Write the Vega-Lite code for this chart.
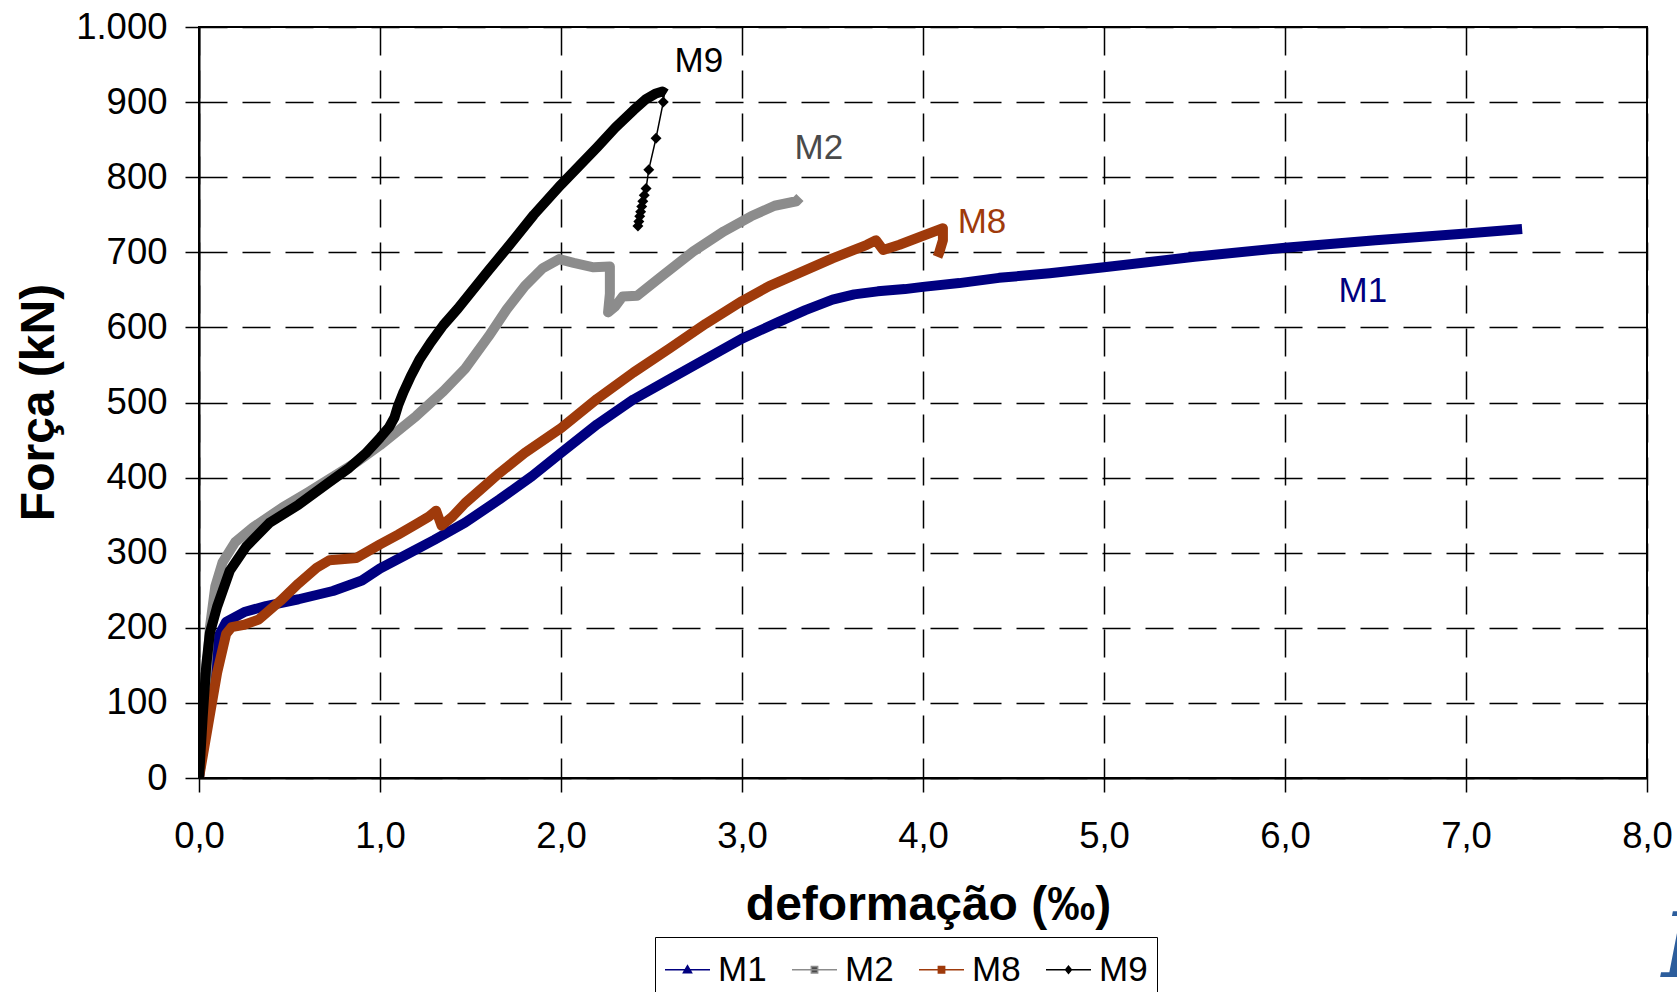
{
  "$schema": "https://vega.github.io/schema/vega-lite/v6.json",
  "autosize": {"type": "none"},
  "width": 1448,
  "height": 751,
  "padding": {"left": 199, "top": 27, "right": 30, "bottom": 214},
  "background": "white",
  "config": {
    "font": "Liberation Sans",
    "view": {"stroke": "black", "strokeWidth": 2},
    "axis": {
      "domainColor": "black", "domainWidth": 2,
      "tickColor": "black", "tickWidth": 1.5, "tickSize": 14,
      "grid": true, "gridColor": "black", "gridWidth": 1.5, "gridDash": [28, 15], "gridOpacity": 1,
      "labelFont": "Liberation Sans", "labelFontSize": 36.5, "labelColor": "black", "labelFlush": false, "labelOverlap": false,
      "titleFont": "Liberation Sans", "titleFontSize": 48, "titleFontWeight": "bold", "titleColor": "black"
    }
  },
  "datasets": {
    "curves": [
      {"s":"M1","part":"main","i":0,"x":0,"y":0},
      {"s":"M1","part":"main","i":1,"x":0.03,"y":60},
      {"s":"M1","part":"main","i":2,"x":0.06,"y":125},
      {"s":"M1","part":"main","i":3,"x":0.1,"y":185},
      {"s":"M1","part":"main","i":4,"x":0.15,"y":208},
      {"s":"M1","part":"main","i":5,"x":0.25,"y":221},
      {"s":"M1","part":"main","i":6,"x":0.37,"y":229},
      {"s":"M1","part":"main","i":7,"x":0.55,"y":238},
      {"s":"M1","part":"main","i":8,"x":0.74,"y":249},
      {"s":"M1","part":"main","i":9,"x":0.9,"y":263},
      {"s":"M1","part":"main","i":10,"x":1.0,"y":279},
      {"s":"M1","part":"main","i":11,"x":1.15,"y":298},
      {"s":"M1","part":"main","i":12,"x":1.3,"y":317},
      {"s":"M1","part":"main","i":13,"x":1.47,"y":340},
      {"s":"M1","part":"main","i":14,"x":1.66,"y":371},
      {"s":"M1","part":"main","i":15,"x":1.84,"y":402},
      {"s":"M1","part":"main","i":16,"x":2.0,"y":433},
      {"s":"M1","part":"main","i":17,"x":2.2,"y":471},
      {"s":"M1","part":"main","i":18,"x":2.4,"y":504},
      {"s":"M1","part":"main","i":19,"x":2.6,"y":531},
      {"s":"M1","part":"main","i":20,"x":2.8,"y":558},
      {"s":"M1","part":"main","i":21,"x":3.0,"y":585},
      {"s":"M1","part":"main","i":22,"x":3.2,"y":607},
      {"s":"M1","part":"main","i":23,"x":3.35,"y":623},
      {"s":"M1","part":"main","i":24,"x":3.5,"y":637},
      {"s":"M1","part":"main","i":25,"x":3.62,"y":644},
      {"s":"M1","part":"main","i":26,"x":3.75,"y":648},
      {"s":"M1","part":"main","i":27,"x":3.9,"y":651},
      {"s":"M1","part":"main","i":28,"x":4.0,"y":654},
      {"s":"M1","part":"main","i":29,"x":4.2,"y":659},
      {"s":"M1","part":"main","i":30,"x":4.42,"y":666},
      {"s":"M1","part":"main","i":31,"x":4.7,"y":672},
      {"s":"M1","part":"main","i":32,"x":5.0,"y":680},
      {"s":"M1","part":"main","i":33,"x":5.5,"y":694},
      {"s":"M1","part":"main","i":34,"x":6.0,"y":706},
      {"s":"M1","part":"main","i":35,"x":6.5,"y":716},
      {"s":"M1","part":"main","i":36,"x":7.0,"y":725},
      {"s":"M1","part":"main","i":37,"x":7.31,"y":731},

      {"s":"M2","part":"main","i":0,"x":0,"y":0},
      {"s":"M2","part":"main","i":1,"x":0.03,"y":100},
      {"s":"M2","part":"main","i":2,"x":0.06,"y":200},
      {"s":"M2","part":"main","i":3,"x":0.09,"y":255},
      {"s":"M2","part":"main","i":4,"x":0.13,"y":287},
      {"s":"M2","part":"main","i":5,"x":0.2,"y":314},
      {"s":"M2","part":"main","i":6,"x":0.3,"y":334},
      {"s":"M2","part":"main","i":7,"x":0.46,"y":360},
      {"s":"M2","part":"main","i":8,"x":0.6,"y":380},
      {"s":"M2","part":"main","i":9,"x":0.74,"y":401},
      {"s":"M2","part":"main","i":10,"x":0.88,"y":422},
      {"s":"M2","part":"main","i":11,"x":1.0,"y":443},
      {"s":"M2","part":"main","i":12,"x":1.2,"y":482},
      {"s":"M2","part":"main","i":13,"x":1.35,"y":515},
      {"s":"M2","part":"main","i":14,"x":1.47,"y":545},
      {"s":"M2","part":"main","i":15,"x":1.6,"y":588},
      {"s":"M2","part":"main","i":16,"x":1.7,"y":624},
      {"s":"M2","part":"main","i":17,"x":1.8,"y":655},
      {"s":"M2","part":"main","i":18,"x":1.9,"y":679},
      {"s":"M2","part":"main","i":19,"x":1.99,"y":691},
      {"s":"M2","part":"main","i":20,"x":2.07,"y":686},
      {"s":"M2","part":"main","i":21,"x":2.18,"y":680},
      {"s":"M2","part":"main","i":22,"x":2.27,"y":681},
      {"s":"M2","part":"main","i":23,"x":2.27,"y":645},
      {"s":"M2","part":"main","i":24,"x":2.26,"y":620},
      {"s":"M2","part":"main","i":25,"x":2.3,"y":628},
      {"s":"M2","part":"main","i":26,"x":2.34,"y":641},
      {"s":"M2","part":"main","i":27,"x":2.42,"y":642},
      {"s":"M2","part":"main","i":28,"x":2.55,"y":667},
      {"s":"M2","part":"main","i":29,"x":2.73,"y":701},
      {"s":"M2","part":"main","i":30,"x":2.9,"y":728},
      {"s":"M2","part":"main","i":31,"x":3.05,"y":748},
      {"s":"M2","part":"main","i":32,"x":3.18,"y":762},
      {"s":"M2","part":"main","i":33,"x":3.3,"y":768},
      {"s":"M2","part":"main","i":34,"x":3.32,"y":773},

      {"s":"M8","part":"main","i":0,"x":0,"y":0},
      {"s":"M8","part":"main","i":1,"x":0.05,"y":70},
      {"s":"M8","part":"main","i":2,"x":0.1,"y":140},
      {"s":"M8","part":"main","i":3,"x":0.15,"y":192},
      {"s":"M8","part":"main","i":4,"x":0.18,"y":201},
      {"s":"M8","part":"main","i":5,"x":0.25,"y":204},
      {"s":"M8","part":"main","i":6,"x":0.33,"y":211},
      {"s":"M8","part":"main","i":7,"x":0.45,"y":236},
      {"s":"M8","part":"main","i":8,"x":0.55,"y":259},
      {"s":"M8","part":"main","i":9,"x":0.65,"y":280},
      {"s":"M8","part":"main","i":10,"x":0.72,"y":290},
      {"s":"M8","part":"main","i":11,"x":0.87,"y":293},
      {"s":"M8","part":"main","i":12,"x":1.0,"y":311},
      {"s":"M8","part":"main","i":13,"x":1.1,"y":324},
      {"s":"M8","part":"main","i":14,"x":1.2,"y":338},
      {"s":"M8","part":"main","i":15,"x":1.27,"y":348},
      {"s":"M8","part":"main","i":16,"x":1.31,"y":356},
      {"s":"M8","part":"main","i":17,"x":1.34,"y":336},
      {"s":"M8","part":"main","i":18,"x":1.4,"y":348},
      {"s":"M8","part":"main","i":19,"x":1.47,"y":366},
      {"s":"M8","part":"main","i":20,"x":1.56,"y":385},
      {"s":"M8","part":"main","i":21,"x":1.66,"y":406},
      {"s":"M8","part":"main","i":22,"x":1.8,"y":433},
      {"s":"M8","part":"main","i":23,"x":2.0,"y":466},
      {"s":"M8","part":"main","i":24,"x":2.2,"y":505},
      {"s":"M8","part":"main","i":25,"x":2.4,"y":540},
      {"s":"M8","part":"main","i":26,"x":2.6,"y":572},
      {"s":"M8","part":"main","i":27,"x":2.8,"y":605},
      {"s":"M8","part":"main","i":28,"x":3.0,"y":635},
      {"s":"M8","part":"main","i":29,"x":3.15,"y":655},
      {"s":"M8","part":"main","i":30,"x":3.32,"y":673},
      {"s":"M8","part":"main","i":31,"x":3.5,"y":692},
      {"s":"M8","part":"main","i":32,"x":3.69,"y":710},
      {"s":"M8","part":"main","i":33,"x":3.74,"y":716},
      {"s":"M8","part":"main","i":34,"x":3.78,"y":703},
      {"s":"M8","part":"main","i":35,"x":3.87,"y":710},
      {"s":"M8","part":"main","i":36,"x":4.0,"y":722},
      {"s":"M8","part":"main","i":37,"x":4.11,"y":732},
      {"s":"M8","part":"main","i":38,"x":4.11,"y":716},
      {"s":"M8","part":"main","i":39,"x":4.09,"y":700},
      {"s":"M8","part":"main","i":40,"x":4.08,"y":694},

      {"s":"M9","part":"main","i":0,"x":0,"y":0},
      {"s":"M9","part":"main","i":1,"x":0.02,"y":80},
      {"s":"M9","part":"main","i":2,"x":0.04,"y":150},
      {"s":"M9","part":"main","i":3,"x":0.06,"y":193},
      {"s":"M9","part":"main","i":4,"x":0.1,"y":228},
      {"s":"M9","part":"main","i":5,"x":0.17,"y":276},
      {"s":"M9","part":"main","i":6,"x":0.26,"y":308},
      {"s":"M9","part":"main","i":7,"x":0.39,"y":340},
      {"s":"M9","part":"main","i":8,"x":0.55,"y":364},
      {"s":"M9","part":"main","i":9,"x":0.72,"y":394},
      {"s":"M9","part":"main","i":10,"x":0.83,"y":413},
      {"s":"M9","part":"main","i":11,"x":0.92,"y":432},
      {"s":"M9","part":"main","i":12,"x":1.0,"y":453},
      {"s":"M9","part":"main","i":13,"x":1.05,"y":467},
      {"s":"M9","part":"main","i":14,"x":1.08,"y":480},
      {"s":"M9","part":"main","i":15,"x":1.1,"y":496},
      {"s":"M9","part":"main","i":16,"x":1.13,"y":514},
      {"s":"M9","part":"main","i":17,"x":1.17,"y":535},
      {"s":"M9","part":"main","i":18,"x":1.22,"y":558},
      {"s":"M9","part":"main","i":19,"x":1.28,"y":580},
      {"s":"M9","part":"main","i":20,"x":1.35,"y":603},
      {"s":"M9","part":"main","i":21,"x":1.43,"y":625},
      {"s":"M9","part":"main","i":22,"x":1.5,"y":646},
      {"s":"M9","part":"main","i":23,"x":1.6,"y":676},
      {"s":"M9","part":"main","i":24,"x":1.7,"y":705},
      {"s":"M9","part":"main","i":25,"x":1.85,"y":750},
      {"s":"M9","part":"main","i":26,"x":2.0,"y":790},
      {"s":"M9","part":"main","i":27,"x":2.1,"y":815},
      {"s":"M9","part":"main","i":28,"x":2.2,"y":840},
      {"s":"M9","part":"main","i":29,"x":2.3,"y":866},
      {"s":"M9","part":"main","i":30,"x":2.4,"y":889},
      {"s":"M9","part":"main","i":31,"x":2.47,"y":904},
      {"s":"M9","part":"main","i":32,"x":2.52,"y":911},
      {"s":"M9","part":"main","i":33,"x":2.56,"y":914},
      {"s":"M9","part":"main","i":34,"x":2.58,"y":911},

      {"s":"M9","part":"tail","i":0,"x":2.57,"y":910},
      {"s":"M9","part":"tail","i":1,"x":2.565,"y":900},
      {"s":"M9","part":"tail","i":2,"x":2.525,"y":852},
      {"s":"M9","part":"tail","i":3,"x":2.485,"y":810},
      {"s":"M9","part":"tail","i":4,"x":2.47,"y":785},
      {"s":"M9","part":"tail","i":5,"x":2.46,"y":776},
      {"s":"M9","part":"tail","i":6,"x":2.452,"y":768},
      {"s":"M9","part":"tail","i":7,"x":2.446,"y":761},
      {"s":"M9","part":"tail","i":8,"x":2.44,"y":754},
      {"s":"M9","part":"tail","i":9,"x":2.435,"y":748},
      {"s":"M9","part":"tail","i":10,"x":2.43,"y":741},
      {"s":"M9","part":"tail","i":11,"x":2.425,"y":735}
    ],
    "labels": [
      {"s":"M9","x":2.762,"y":955},
      {"s":"M2","x":3.425,"y":839},
      {"s":"M8","x":4.326,"y":740},
      {"s":"M1","x":6.43,"y":648}
    ],
    "corner": [
      {"t":"I","x":8.08,"y":-265}
    ]
  },
  "encoding": {
    "x": {"field":"x","type":"quantitative","scale":{"domain":[0,8],"nice":false,"zero":false},
      "axis":{"values":[0,1,2,3,4,5,6,7,8],"labelExpr":"replace(format(datum.value, '.1f'), '.', ',')",
        "labelPadding":26,"title":"deformação (‰)","titleX":729,"titleY":141,"titleBaseline":"alphabetic","titleAlign":"center","titleAnchor":null}},
    "y": {"field":"y","type":"quantitative","scale":{"domain":[0,1000],"nice":false},
      "axis":{"values":[0,100,200,300,400,500,600,700,800,900,1000],"labelExpr":"replace(format(datum.value, ',d'), ',', '.')",
        "labelPadding":18,"title":"Força (kN)","titleX":-146,"titleY":375,"titleBaseline":"alphabetic","titleAlign":"center","titleAngle":270,"titleAnchor":null}}
  },
  "layer": [
    {
      "data": {"name":"curves"},
      "transform":[{"filter":"datum.part === 'main'"}],
      "mark": {"type":"line","strokeWidth":10,"strokeJoin":"round","strokeCap":"butt","clip":true},
      "encoding": {
        "color": {"field":"s","type":"nominal",
          "scale":{"domain":["M1","M2","M8","M9"],"range":["#000080","#8c8c8c","#9f3a0b","#000000"]},
          "legend":{"orient":"none","legendX":456,"legendY":910,"direction":"horizontal","title":null,
            "strokeColor":"black","padding":9,"labelFont":"Liberation Sans","labelFontSize":35,"labelColor":"black",
            "symbolSize":2025,"symbolStrokeWidth":1.5,"labelOffset":7,"columnPadding":22,"symbolType":"stroke",
            "encode":{"symbols":{"update":{
              "shape":{"signal":"datum.value === 'M1' ? 'M-1,0H1M-0.18,0.13L0,-0.18L0.18,0.13Z' : (datum.value === 'M9' ? 'M-1,0H1M0,-0.16L0.13,0L0,0.16L-0.13,0Z' : 'M-1,0H1M-0.14,-0.14H0.14V0.14H-0.14Z')"},
              "fill":{"scale":"color","field":"value"},
              "stroke":{"scale":"color","field":"value"},
              "strokeWidth":{"value":1.5},
              "opacity":{"value":1}
            }}}}},
        "order": {"field":"i","type":"quantitative"}
      }
    },
    {
      "data": {"name":"curves"},
      "transform":[{"filter":"datum.part === 'tail'"}],
      "mark": {"type":"line","strokeWidth":1.5,"color":"black"},
      "encoding": {"order": {"field":"i","type":"quantitative"}}
    },
    {
      "data": {"name":"curves"},
      "transform":[{"filter":"datum.part === 'tail' && datum.i > 0"}],
      "mark": {"type":"point","shape":"diamond","filled":true,"size":120,"color":"black","opacity":1},
      "encoding": {}
    },
    {
      "data": {"name":"labels"},
      "mark": {"type":"text","fontSize":35,"font":"Liberation Sans","align":"center","baseline":"middle"},
      "encoding": {
        "text": {"field":"s"},
        "fill": {"field":"s","type":"nominal","scale":{"domain":["M1","M2","M8","M9"],"range":["#000080","#4a4a4a","#9f3a0b","#000000"]},"legend":null}
      }
    },
    {
      "data": {"name":"corner"},
      "mark": {"type":"text","fontSize":90,"font":"DejaVu Serif","fontStyle":"italic","align":"left","baseline":"alphabetic","color":"#2c5d9c"},
      "encoding": {"text": {"field":"t"}}
    }
  ]
}
